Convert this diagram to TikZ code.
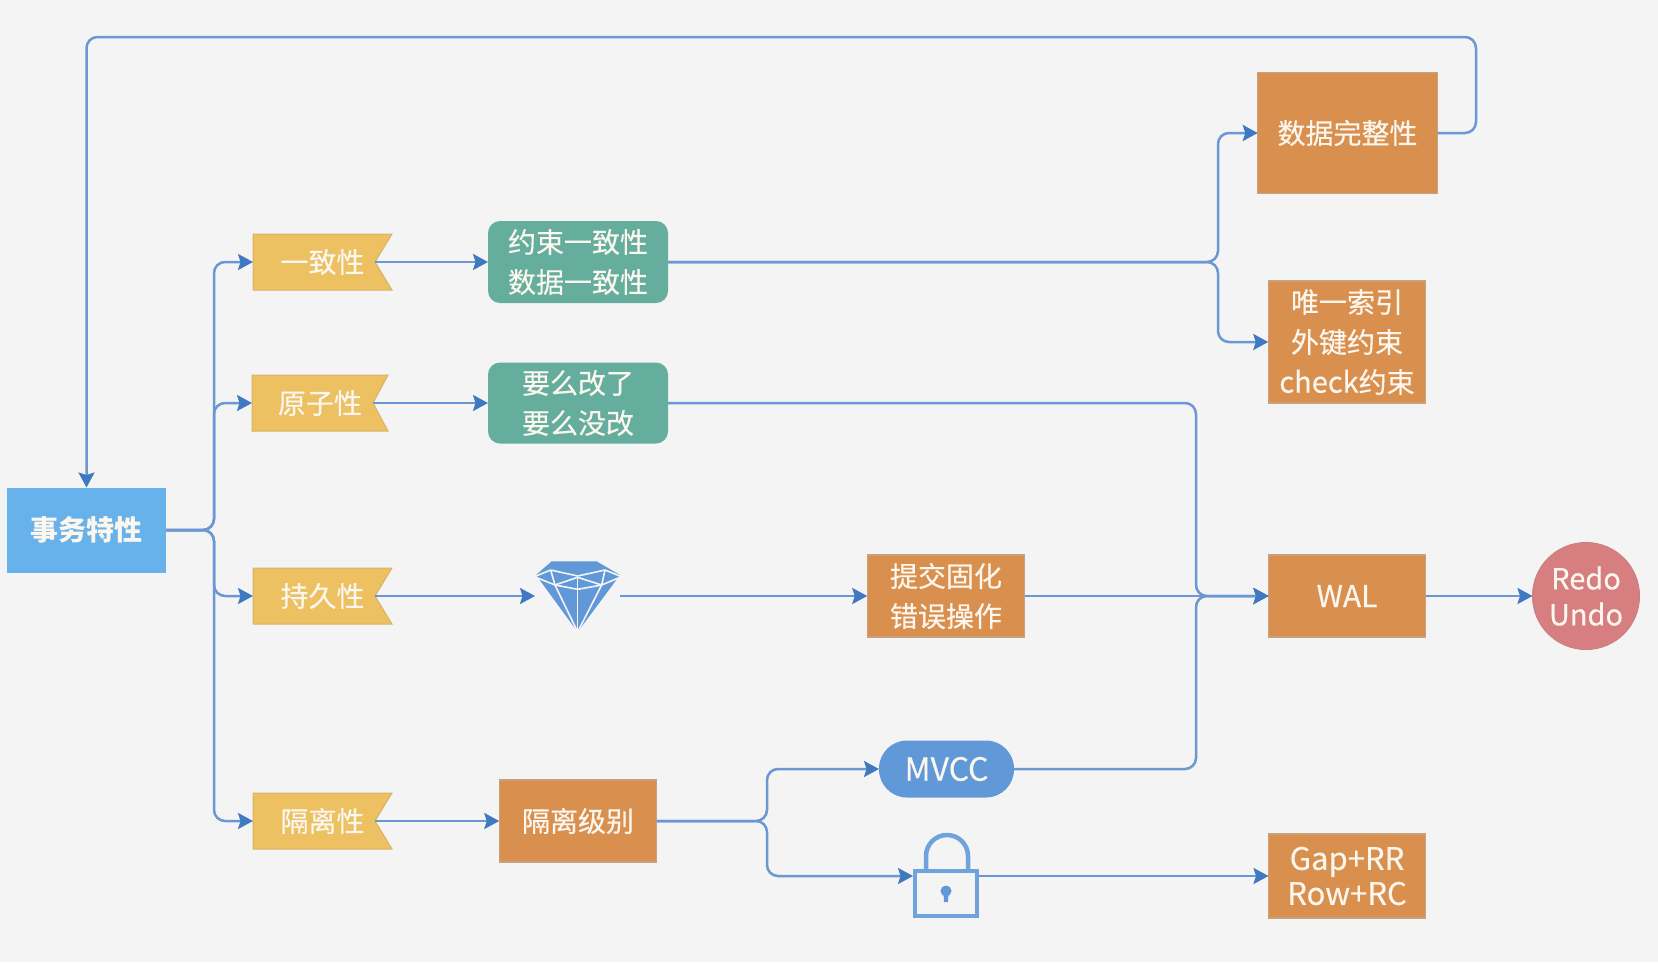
\documentclass[tikz,border=0pt]{standalone}
\usepackage{fontspec}
\setmainfont{Noto Sans CJK SC}[UprightFeatures={FakeBold=0.35}]
\usetikzlibrary{arrows.meta,calc}
\definecolor{bgc}{HTML}{F4F4F5}
\definecolor{linec}{HTML}{6B97D2}
\definecolor{tipc}{HTML}{3F79C2}
\definecolor{orangec}{HTML}{D9904F}
\definecolor{orangeb}{HTML}{C9A17C}
\definecolor{tealc}{HTML}{65AE9D}
\definecolor{yellowc}{HTML}{EDC062}
\definecolor{bluec}{HTML}{67B2EA}
\definecolor{pillc}{HTML}{6098D8}
\definecolor{redc}{HTML}{D77F80}
\definecolor{textc}{HTML}{FBF6EE}
\tikzset{
  basebox/.style={inner sep=0pt,outer sep=0pt,align=center,text=textc,font=\fontsize{28}{40}\selectfont},
  orangebox/.style={basebox,rectangle,fill=orangec,draw=orangeb,line width=1.2pt},
  tealbox/.style={basebox,rectangle,rounded corners=12pt,fill=tealc},
  mainbox/.style={basebox,rectangle,fill=bluec,font=\bfseries\fontsize{28}{40}\selectfont},
  pillbox/.style={basebox,rectangle,rounded corners=28pt,fill=pillc,font=\fontsize{32}{40}\selectfont},
  roundbox/.style={basebox,circle,fill=redc,draw=redc!85!gray,line width=1pt,font=\fontsize{29}{36}\selectfont},
  flagfill/.style={fill=yellowc,draw=yellowc!80!gray,line width=1pt},
  flagtext/.style={basebox},
  iconbox/.style={inner sep=0pt,outer sep=0pt,minimum width=#1,minimum height=10pt},
  conn/.style={draw=linec,line width=2.5pt,rounded corners=11pt},
  arr/.style={conn,-{Stealth[length=15pt,width=16pt,inset=2.5pt,fill=tipc,color=tipc]}},
  gemfill/.style={fill=pillc},
  gemcut/.style={draw=bgc,line width=1.6pt},
  lockline/.style={draw=pillc!90!white,line width=4.5pt}
}
\newcommand{\flagshape}[4]{% left, right, cy, notch x
  \path[flagfill] (#1,#3-28)--(#2,#3-28)--(#4,#3)--(#2,#3+28)--(#1,#3+28)--cycle;
}
\begin{document}
\begin{tikzpicture}[x=1pt,y=-1pt]
\useasboundingbox (0,0) rectangle (1658,962);
\fill[bgc] (0,0) rectangle (1658,962);

% flags
\flagshape{253}{392}{262}{375}
\flagshape{252}{388}{403}{373}
\flagshape{253}{392}{596}{375}
\flagshape{253}{392}{821}{375}
\node[flagtext,minimum width=139pt,minimum height=56pt] (f1) at (322.5,262) {一致性};
\node[flagtext,minimum width=136pt,minimum height=56pt] (f2) at (320,403) {原子性};
\node[flagtext,minimum width=139pt,minimum height=56pt] (f3) at (322.5,596) {持久性};
\node[flagtext,minimum width=139pt,minimum height=56pt] (f4) at (322.5,821) {隔离性};
\coordinate (n1) at (375,262);
\coordinate (n2) at (373,403);
\coordinate (n3) at (375,596);
\coordinate (n4) at (375,821);

\node[mainbox,minimum width=159pt,minimum height=85pt] (m) at (86.5,530) {事务特性};
\node[tealbox,minimum width=180pt,minimum height=82pt] (c1) at (578,262) {约束一致性\\数据一致性};
\node[tealbox,minimum width=180pt,minimum height=81pt] (c2) at (578,403) {要么改了\\要么没改};
\node[orangebox,minimum width=157.5pt,minimum height=82pt] (t) at (946,596) {提交固化\\错误操作};
\node[orangebox,minimum width=157.5pt,minimum height=82pt] (iso) at (578,821) {隔离级别};
\node[pillbox,minimum width=135pt,minimum height=57pt] (mv) at (946.5,769) {MVCC};
\node[orangebox,minimum width=157pt,minimum height=84pt,font=\fontsize{31}{35}\selectfont] (gap) at (1347,876) {Gap+RR\\Row+RC};
\node[orangebox,minimum width=157pt,minimum height=82pt,font=\fontsize{30}{40}\selectfont] (wal) at (1347,596) {WAL};
\node[roundbox,minimum size=107pt] (ru) at (1586,596) {Redo\\Undo};
\node[orangebox,minimum width=179.5pt,minimum height=121pt] (d) at (1347.5,133) {数据完整性};
\node[orangebox,minimum width=157.5pt,minimum height=122pt] (u) at (1347,342) {唯一索引\\外键约束\\{\fontsize{29}{40}\selectfont check}约束};

% gem
\node[iconbox=85pt] (gem) at (577.5,596) {};
\begin{scope}[shift={(480,520)},x=0.3333pt,y=-0.3333pt]
  \fill[gemfill] (215,124)--(350,124)--(420,165)--(293,336)--(168,165)--cycle;
  \draw[gemcut] (168,172)--(225,195)--(293,172)--(365,195)--(420,172);
  \draw[gemcut] (225,195)--(293,208)--(365,195);
  \draw[gemcut] (293,172)--(293,336);
  \draw[gemcut] (225,195)--(293,336)--(365,195);
  \draw[gemcut] (212,150)--(225,195);
  \draw[gemcut] (375,150)--(365,195);
  \draw[gemcut] (212,150)--(293,168)--(375,150);
  \draw[gemcut] (212,150)--(168,168);
  \draw[gemcut] (375,150)--(420,168);
\end{scope}

% lock
\node[iconbox=66pt] (lk) at (946,876) {};
\draw[lockline] (926,869)--(926,856) arc[start angle=180,end angle=0,radius=21pt]--(968,869);
\draw[lockline] (915,871) rectangle (977,916);
\fill[pillc] (946,891) circle (5.5pt);
\fill[pillc] (943.5,892)--(948.5,892)--(948,902)--(944,902)--cycle;

% connectors
\coordinate (tr) at (214,530);
\draw[arr] (m.east)--(tr)--(tr|-f1)--(f1.west);
\draw[arr] (m.east)--(tr)--(tr|-f2)--(f2.west);
\draw[arr] (m.east)--(tr)--(tr|-f3)--(f3.west);
\draw[arr] (m.east)--(tr)--(tr|-f4)--(f4.west);
\draw[arr] (n1)--(c1.west);
\draw[arr] (n2)--(c2.west);
\draw[arr] (n3)--(gem.west);
\draw[arr] (n4)--(iso.west);
\draw[arr] (gem.east)--(t.west);
\coordinate (b1) at (1218,262);
\draw[arr] (c1.east)--(b1)--(b1|-d)--(d.west);
\draw[arr] (c1.east)--(b1)--(b1|-u)--(u.west);
\coordinate (b2) at (1196,596);
\draw[arr] (c2.east)--(b2|-c2)--(b2)--(wal.west);
\draw[arr] (mv.east)--(b2|-mv)--(b2)--(wal.west);
\draw[arr] (t.east)--(wal.west);
\draw[arr] (wal.east)--(ru.west);
\coordinate (b3) at (767,821);
\draw[arr] (iso.east)--(b3)--(b3|-mv)--(mv.west);
\draw[arr] (iso.east)--(b3)--(b3|-lk)--(lk.west);
\draw[arr] (lk.east)--(gap.west);
\coordinate (tp) at (1476,37);
\draw[arr] (d.east)--(tp|-d)--(tp)--(m.north|-tp)--(m.north);
\end{tikzpicture}
\end{document}
